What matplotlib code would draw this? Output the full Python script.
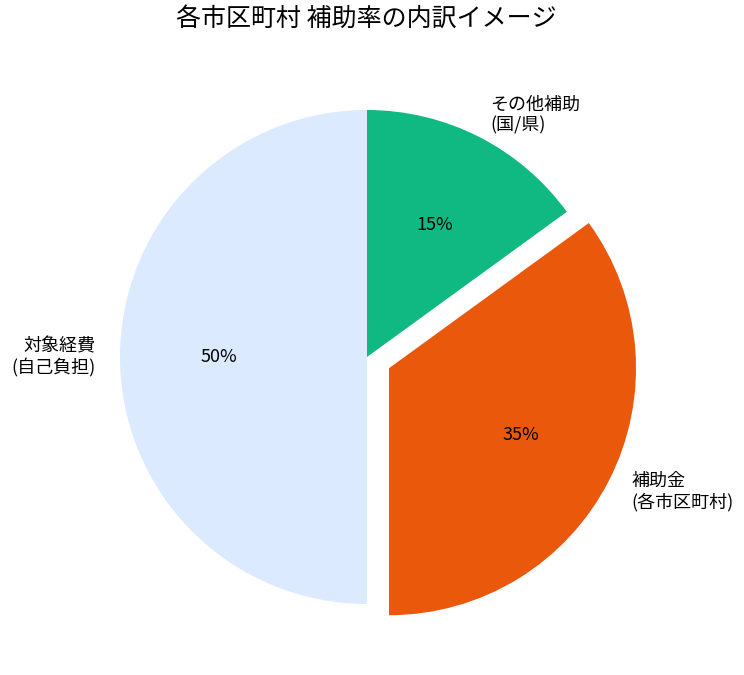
import matplotlib
matplotlib.use("Agg")
import matplotlib.pyplot as plt

plt.rcParams['font.family'] = ['Noto Sans CJK JP', 'DejaVu Sans']

labels = ['対象経費\n(自己負担)', '補助金\n(各市区町村)', 'その他補助\n(国/県)']
values = [50, 35, 15]
colors = ['#dbeafe', '#ea580c', '#10b981']
explode = [0, 0.1, 0]
title = '各市区町村 補助率の内訳イメージ'

fig = plt.figure(figsize=(7.44, 6.75), dpi=100)
w = 617.5 / 744
h = 617.5 / 675
cx = 367 / 744
cy = (675 - 357) / 675
ax = fig.add_axes([cx - w / 2, cy - h / 2, w, h])
ax.pie(values, labels=labels, colors=colors, explode=explode,
       autopct='%1.0f%%', startangle=90, counterclock=True,
       textprops={'fontsize': 13})
ax.set_xlim(-1.25, 1.25)
ax.set_ylim(-1.25, 1.25)
ax.set_aspect('equal')
fig.text(366 / 744, 1 - 20 / 675, title, ha='center', va='center', fontsize=18)
fig.savefig('out.png', dpi=100)
